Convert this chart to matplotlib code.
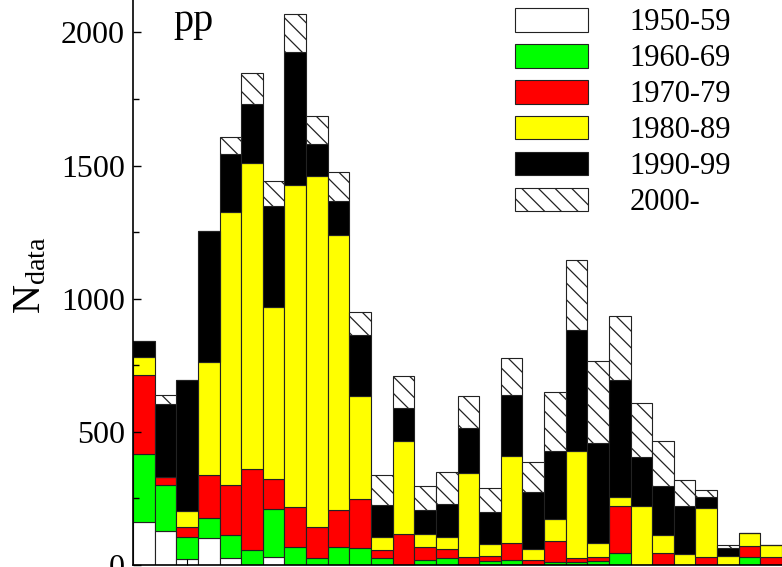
import numpy as np
import matplotlib.pyplot as plt

plt.rcParams['font.family'] = ['Liberation Serif', 'DejaVu Serif']
plt.rcParams['mathtext.fontset'] = 'stix'
plt.rcParams['hatch.linewidth'] = 0.9

# bins (left edges, one unit wide)
bins = np.arange(30)

# counts per decade in each bin
n_1950s = [163, 129, 21, 103, 25, 0, 29, 0, 0, 0, 0, 0, 0, 0, 0,
           0, 0, 0, 0, 0, 0, 0, 0, 0, 0, 0, 0, 0, 0, 0]
n_1960s = [253, 172, 85, 75, 88, 56, 180, 69, 25, 69, 63, 28, 0, 19, 28,
           0, 14, 19, 0, 13, 12, 14, 44, 0, 0, 0, 0, 0, 31, 0]
n_1970s = [298, 29, 38, 160, 189, 305, 114, 148, 117, 138, 185, 28, 118, 50, 32,
           31, 20, 64, 19, 77, 16, 16, 178, 0, 46, 0, 31, 0, 40, 29]
n_1980s = [69, 0, 60, 424, 1025, 1150, 646, 1209, 1318, 1034, 388, 51, 349, 48, 47,
           316, 46, 326, 40, 82, 402, 54, 33, 222, 67, 41, 183, 32, 48, 47]
n_1990s = [59, 274, 491, 494, 217, 222, 378, 500, 123, 125, 227, 117, 123, 91, 122,
           169, 120, 230, 216, 257, 453, 376, 440, 185, 183, 181, 43, 31, 0, 0]
n_2000s = [0, 35, 0, 0, 64, 115, 94, 145, 102, 109, 89, 114, 118, 90, 119,
           120, 89, 138, 111, 220, 261, 307, 242, 203, 171, 98, 25, 13, 0, 0]

labels = ['1950-59', '1960-69', '1970-79', '1980-89', '1990-99', '2000-']
colors = ['white', '#00ff00', '#ff0000', '#ffff00', 'black', 'white']
hatches = [None, None, None, None, None, '\\\\']

fig = plt.figure(figsize=(7.82, 5.67), dpi=100)
ax = fig.add_axes([133 / 782, 2 / 567, 649 / 782, 565 / 567])

bottom = np.zeros(len(bins))
for vals, lab, col, h in zip([n_1950s, n_1960s, n_1970s, n_1980s, n_1990s, n_2000s],
                             labels, colors, hatches):
    vals = np.array(vals, dtype=float)
    ax.bar(bins, vals, width=1, bottom=bottom, align='edge', color=col,
           edgecolor='#222222', linewidth=0.8, hatch=h, label=lab)
    bottom += vals

ax.set_xlim(0, 30)
ax.set_ylim(0, 2122)
ax.spines['top'].set_visible(False)
ax.spines['right'].set_visible(False)
ax.spines['left'].set_linewidth(1.2)
ax.spines['bottom'].set_linewidth(1.2)

ax.set_yticks(np.arange(0, 2001, 500))
ax.set_yticks(np.arange(0, 2001, 250), minor=True)
ax.tick_params(axis='y', which='major', direction='in', length=6, width=1,
               labelsize=23, pad=6)
ax.tick_params(axis='y', which='minor', direction='in', length=4, width=1)
ax.set_xticks([2.48])
ax.tick_params(axis='x', direction='in', length=4, labelbottom=False)

fig.text(31 / 782, 1 - 275 / 567, r'$\mathregular{N_{data}}$', rotation=90,
         ha='center', va='center', fontsize=29)
ax.text(1.85, 2006, 'pp', fontsize=29)

ax.legend(loc='upper left', bbox_to_anchor=(515 / 782, 1 - 8 / 567),
          bbox_transform=fig.transFigure, frameon=False, fontsize=22,
          handlelength=2.38, handleheight=0.82, handletextpad=1.36,
          labelspacing=0.21, borderpad=0, borderaxespad=0)

fig.savefig('out.png', dpi=100)
